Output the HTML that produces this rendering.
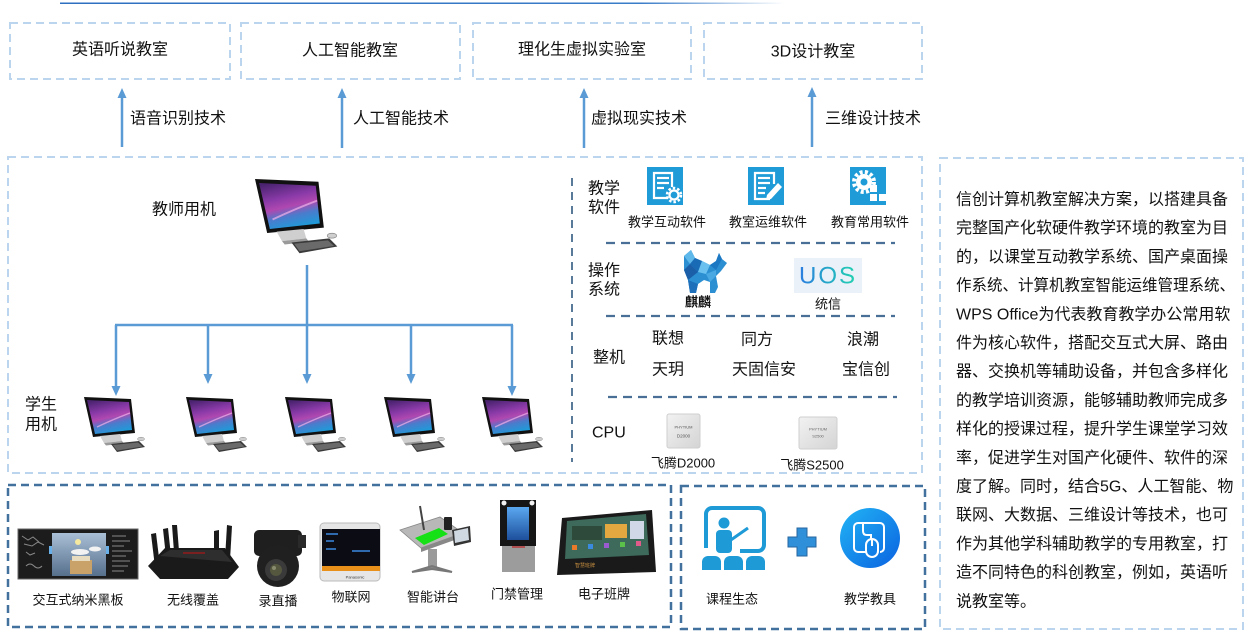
<!DOCTYPE html>
<html><head><meta charset="utf-8"><style>
html,body{margin:0;padding:0;background:#fff;}
body{width:1248px;height:640px;overflow:hidden;}
svg{display:block;}
text{font-family:"Liberation Sans","Noto Sans CJK SC",sans-serif;fill:#111;dominant-baseline:central;}
</style></head><body>
<svg width="1248" height="640" viewBox="0 0 1248 640" xmlns="http://www.w3.org/2000/svg">
<defs>
<linearGradient id="topline" x1="0" x2="1" y1="0" y2="0">
<stop offset="0" stop-color="#2e6fc0"/><stop offset="0.8" stop-color="#3a7cc8"/><stop offset="1" stop-color="#fff"/>
</linearGradient>
<linearGradient id="scr" x1="0.2" y1="0" x2="0.5" y2="1">
<stop offset="0" stop-color="#4a2370"/><stop offset="0.35" stop-color="#8a3aa8"/><stop offset="0.55" stop-color="#b048b0"/><stop offset="0.75" stop-color="#4a7ccc"/><stop offset="1" stop-color="#1f9ad8"/>
</linearGradient>
<linearGradient id="chip" x1="0" y1="0" x2="1" y2="1">
<stop offset="0" stop-color="#f2f2f2"/><stop offset="1" stop-color="#d4d4d4"/>
</linearGradient>
<linearGradient id="uos" x1="0" x2="1" y1="0" y2="0">
<stop offset="0" stop-color="#2a7de0"/><stop offset="1" stop-color="#22d3b0"/>
</linearGradient>
<linearGradient id="tool" x1="0" y1="0" x2="1" y2="1">
<stop offset="0" stop-color="#22b4f5"/><stop offset="1" stop-color="#0a62e0"/>
</linearGradient>
<linearGradient id="board" x1="0" y1="0" x2="0" y2="1">
<stop offset="0" stop-color="#a9bfd6"/><stop offset="1" stop-color="#566f8c"/>
</linearGradient>
<linearGradient id="door" x1="0" y1="0" x2="0" y2="1">
<stop offset="0" stop-color="#5aa8f0"/><stop offset="1" stop-color="#1d4f9c"/>
</linearGradient>
<g id="pc">
<polygon points="0,0 47,2 51,36 9,40" fill="#111"/>
<polygon points="3,3 45,5 48,33 11,37" fill="url(#scr)"/>
<path d="M13,30 Q30,22 46,16" stroke="#f4b0e8" stroke-width="1.4" fill="none" opacity=".7"/>
<polygon points="16,39 36,37 38,44 20,46" fill="#cfcfcf"/>
<polygon points="20,46 38,44 40,46.5 22,48.5" fill="#9a9a9a"/>
<polygon points="27,47 55,44 61,50 33,55" fill="#3a3a3a"/>
<polygon points="29,48 54,45.5 58.5,49.5 33,53.5" fill="#6a6a6a"/>
<ellipse cx="57" cy="42" rx="3.5" ry="1.8" fill="#cfcfcf" stroke="#888" stroke-width=".5"/>
</g>
</defs>

<rect x="60" y="2.5" width="725" height="1.5" fill="url(#topline)"/>

<g fill="none" stroke="#bcd5ee" stroke-width="2" stroke-dasharray="8 5">
<rect x="10" y="23" width="220" height="56"/>
<rect x="241" y="23" width="219" height="56"/>
<rect x="473" y="23" width="218" height="56"/>
<rect x="704" y="23" width="218" height="56"/>
<rect x="8" y="157" width="914" height="316"/>
<rect x="940" y="158" width="303" height="471"/>
</g>
<g font-size="16" text-anchor="middle">
<text x="120" y="50">英语听说教室</text>
<text x="350" y="51">人工智能教室</text>
<text x="582" y="50">理化生虚拟实验室</text>
<text x="813" y="52">3D设计教室</text>
</g>

<g stroke="#5b9bd5" stroke-width="2.5">
<line x1="122" y1="147" x2="122" y2="96"/>
<line x1="342" y1="148" x2="342" y2="96"/>
<line x1="584" y1="148" x2="584" y2="96"/>
<line x1="812" y1="147" x2="812" y2="96"/>
</g>
<g fill="#5b9bd5">
<polygon points="122,88 117.5,98 126.5,98"/>
<polygon points="342,88 337.5,98 346.5,98"/>
<polygon points="584,88 579.5,98 588.5,98"/>
<polygon points="812,87 807.5,97 816.5,97"/>
</g>
<g font-size="16">
<text x="130" y="119">语音识别技术</text>
<text x="353" y="119">人工智能技术</text>
<text x="591" y="119">虚拟现实技术</text>
<text x="825" y="119">三维设计技术</text>
</g>

<text x="152" y="210" font-size="16">教师用机</text>
<use href="#pc" transform="translate(255,179) scale(1.35)"/>
<text x="25" y="405" font-size="16">学生</text>
<text x="25" y="425" font-size="16">用机</text>
<use href="#pc" transform="translate(84,397)"/>
<use href="#pc" transform="translate(186,397)"/>
<use href="#pc" transform="translate(285,397)"/>
<use href="#pc" transform="translate(384,397)"/>
<use href="#pc" transform="translate(482,397)"/>

<g stroke="#5b9bd5" stroke-width="2.5" fill="none">
<line x1="307" y1="265" x2="307" y2="326"/>
<line x1="115" y1="325" x2="513" y2="325"/>
<line x1="116" y1="325" x2="116" y2="388"/>
<line x1="208" y1="325" x2="208" y2="376"/>
<line x1="307" y1="325" x2="307" y2="376"/>
<line x1="411" y1="325" x2="411" y2="376"/>
<line x1="512" y1="325" x2="512" y2="388"/>
</g>
<g fill="#5b9bd5">
<polygon points="116,396 111.5,386 120.5,386"/>
<polygon points="208,384 203.5,374 212.5,374"/>
<polygon points="307,384 302.5,374 311.5,374"/>
<polygon points="411,384 406.5,374 415.5,374"/>
<polygon points="512,396 507.5,386 516.5,386"/>
</g>

<line x1="572" y1="178" x2="572" y2="462" stroke="#5a7a9a" stroke-width="2" stroke-dasharray="8 6"/>
<g stroke="#4a6f96" stroke-width="2.2" stroke-dasharray="9 6">
<line x1="606" y1="243" x2="895" y2="243"/>
<line x1="606" y1="316" x2="895" y2="316"/>
<line x1="608" y1="397" x2="897" y2="397"/>
</g>
<g font-size="16">
<text x="588" y="189">教学</text>
<text x="588" y="208">软件</text>
<text x="588" y="271">操作</text>
<text x="588" y="290">系统</text>
<text x="593" y="358">整机</text>
<text x="592" y="433">CPU</text>
</g>

<rect x="647" y="167" width="36" height="38" fill="#1f9bd7"/>
<g fill="none" stroke="#fff" stroke-width="2.2">
<path d="M668,198 H654 V173 H672 V187"/>
<line x1="657" y1="178" x2="669" y2="178"/>
<line x1="657" y1="183" x2="669" y2="183"/>
<line x1="657" y1="188" x2="664" y2="188"/>
<circle cx="674" cy="195" r="4.5"/>
</g>
<circle cx="674" cy="195" r="7" fill="none" stroke="#fff" stroke-width="2.5" stroke-dasharray="2.5 2"/>
<rect x="748" y="167" width="36" height="38" fill="#1f9bd7"/>
<g fill="none" stroke="#fff" stroke-width="2.2">
<path d="M770,199 H755 V173 H774 V184"/>
<line x1="758" y1="178" x2="770" y2="178"/>
<line x1="758" y1="183" x2="770" y2="183"/>
<line x1="758" y1="188" x2="766" y2="188"/>
<line x1="758" y1="193" x2="765" y2="193"/>
</g>
<polygon points="778,183 782,187 771,199 766,200 767,195" fill="#fff"/>
<rect x="850" y="167" width="36" height="38" fill="#1f9bd7"/>
<circle cx="864" cy="182" r="10" fill="none" stroke="#fff" stroke-width="4" stroke-dasharray="3 2.3"/>
<circle cx="864" cy="182" r="8" fill="#fff"/>
<circle cx="864" cy="182" r="3.5" fill="#1f9bd7"/>
<g fill="#fff">
<rect x="870" y="185" width="7" height="7"/>
<rect x="870" y="194" width="7" height="7"/>
<rect x="879" y="194" width="7" height="7"/>
</g>
<g font-size="13" text-anchor="middle">
<text x="667" y="222">教学互动软件</text>
<text x="768" y="222">教室运维软件</text>
<text x="870" y="222">教育常用软件</text>
</g>

<g transform="translate(682,250)">
<polygon points="2,6 9,0 13,8 20,11 28,15 34,11 37,3 40,9 45,13 39,21 34,26 36,37 33,43 28,43 28,32 22,30 16,34 14,43 8,43 6,30 2,20" fill="#2b8fd2"/>
<polygon points="2,6 9,0 13,8 8,14" fill="#5fb8ea"/>
<polygon points="13,8 20,11 16,22 8,14" fill="#1a6bb5"/>
<polygon points="20,11 28,15 24,24 16,22" fill="#6ac0ee"/>
<polygon points="28,15 34,11 37,3 40,9 34,20" fill="#1d78c4"/>
<polygon points="2,20 8,14 16,22 6,30" fill="#1a5fa8"/>
<polygon points="24,24 34,20 34,26 28,32" fill="#4aa8e2"/>
<polygon points="8,43 6,30 16,34 14,43" fill="#1e70bb"/>
</g>
<text x="698" y="302" font-size="13" text-anchor="middle" font-weight="bold">麒麟</text>
<rect x="794" y="258" width="68" height="35" fill="#eaf1f8"/>
<text x="828" y="276" font-size="24" text-anchor="middle" style="fill:url(#uos);letter-spacing:2px">UOS</text>
<text x="828" y="304" font-size="13" text-anchor="middle">统信</text>

<g font-size="16" text-anchor="middle">
<text x="668" y="339">联想</text>
<text x="757" y="340">同方</text>
<text x="863" y="340">浪潮</text>
<text x="668" y="370">天玥</text>
<text x="764" y="370">天固信安</text>
<text x="866" y="370">宝信创</text>
</g>

<rect x="667" y="414" width="33" height="34" rx="2" fill="url(#chip)" stroke="#cfcfcf"/>
<text x="683.5" y="427" font-size="4" text-anchor="middle" style="fill:#555">PHYTIUM</text>
<text x="683.5" y="436" font-size="4.5" text-anchor="middle" style="fill:#555">D2000</text>
<rect x="799" y="417" width="38" height="32" rx="2" fill="url(#chip)" stroke="#cfcfcf"/>
<text x="818" y="429" font-size="4" text-anchor="middle" style="fill:#666">PHYTIUM</text>
<text x="818" y="436" font-size="4" text-anchor="middle" style="fill:#666">S2500</text>
<g font-size="13" text-anchor="middle">
<text x="683" y="463">飞腾D2000</text>
<text x="812" y="465">飞腾S2500</text>
</g>

<g font-size="16">
<text x="956" y="200">信创计算机教室解决方案，以搭建具备</text>
<text x="956" y="228.7">完整国产化软硬件教学环境的教室为目</text>
<text x="956" y="257.4">的，以课堂互动教学系统、国产桌面操</text>
<text x="956" y="286.1" textLength="279" lengthAdjust="spacingAndGlyphs">作系统、计算机教室智能运维管理系统、</text>
<text x="956" y="314.8">WPS Office为代表教育教学办公常用软</text>
<text x="956" y="343.5">件为核心软件，搭配交互式大屏、路由</text>
<text x="956" y="372.2">器、交换机等辅助设备，并包含多样化</text>
<text x="956" y="400.9">的教学培训资源，能够辅助教师完成多</text>
<text x="956" y="429.6">样化的授课过程，提升学生课堂学习效</text>
<text x="956" y="458.3">率，促进学生对国产化硬件、软件的深</text>
<text x="956" y="487">度了解。同时，结合5G、人工智能、物</text>
<text x="956" y="515.7">联网、大数据、三维设计等技术，也可</text>
<text x="956" y="544.4">作为其他学科辅助教学的专用教室，打</text>
<text x="956" y="573.1">造不同特色的科创教室，例如，英语听</text>
<text x="956" y="601.8">说教室等。</text>
</g>

<g fill="none" stroke="#41719c" stroke-width="2.5" stroke-dasharray="8 5">
<rect x="8" y="485" width="663" height="142"/>
<rect x="681" y="486" width="244" height="143"/>
</g>

<rect x="18" y="529" width="120" height="50" fill="#1c1c1c" stroke="#666" stroke-width="1"/>
<rect x="52" y="533" width="54" height="43" fill="url(#board)"/>
<rect x="49" y="546" width="3" height="8" fill="#6ab0e8"/>
<rect x="106" y="546" width="3" height="8" fill="#6ab0e8"/>
<g stroke="#888" stroke-width="1" fill="none">
<path d="M22,536 l6,4 l5,-3 l6,5 M24,544 l8,2 l6,-4 l6,3 M26,552 l4,3 l5,-2"/>
<path d="M26,566 q4,-4 8,0 q4,4 8,0"/>
<path d="M112,536 h14 M112,541 h18 M112,546 h12 M112,551 h20 M112,556 h14 M112,561 h18 M112,566 h16 M112,571 h12"/>
</g>
<rect x="70" y="560" width="22" height="14" fill="#c9a26a"/>
<rect x="72" y="556" width="18" height="5" fill="#e8dcc0"/>
<ellipse cx="80" cy="552" rx="9" ry="3" fill="#f2f2f2"/>
<ellipse cx="95" cy="549" rx="6" ry="2.5" fill="#f2f2f2"/>
<circle cx="78" cy="542" r="3" fill="#f5e9a0"/>

<g fill="#1a1a1a">
<polygon points="151,534 156,533 160,566 155,567"/>
<polygon points="163,529 168,528 171,556 166,557"/>
<polygon points="172,525 177,525 179,551 174,552"/>
<polygon points="214,531 219,530 219,556 214,556"/>
<polygon points="227,525 232,526 230,560 225,559"/>
<polygon points="148,566 165,548 225,548 239,567 228,579 160,579"/>
</g>
<polygon points="160,556 170,550 222,550 232,562" fill="#2e2e2e"/>
<rect x="183" y="552" width="22" height="2" fill="#7a2020"/>

<rect x="254" y="530" width="48" height="26" rx="5" fill="#1f1f1f"/>
<rect x="298" y="535" width="8" height="13" fill="#2a2a2a"/>
<circle cx="278" cy="566" r="21" fill="#202020"/>
<circle cx="276" cy="570" r="11" fill="#3a3a3a"/>
<circle cx="276" cy="570" r="6" fill="#55573f"/>
<circle cx="274" cy="568" r="2" fill="#8a8c70"/>

<rect x="320" y="523" width="60" height="58" rx="4" fill="#e6e6e6" stroke="#bbb"/>
<rect x="322" y="529" width="58" height="37" fill="#0c0c14"/>
<g stroke="#3a8ae0" stroke-width="1.5">
<line x1="326" y1="534" x2="338" y2="534"/><line x1="326" y1="541" x2="334" y2="541"/><line x1="326" y1="549" x2="336" y2="549"/>
<line x1="352" y1="551" x2="370" y2="551"/>
</g>
<rect x="322" y="566" width="58" height="5" fill="#e8901a"/>
<text x="355" y="577" font-size="4" text-anchor="middle" style="fill:#333">Panasonic</text>

<polygon points="400,530 440,517 463,533 421,548" fill="#b8b8b8" stroke="#888" stroke-width=".8"/>
<polygon points="415,538 439,528 448,534 424,545" fill="#16e016"/>
<polygon points="421,548 463,533 463,537 421,552" fill="#888"/>
<line x1="424" y1="530" x2="420" y2="506" stroke="#444" stroke-width="2"/>
<rect x="444" y="517" width="8" height="13" rx="1" fill="#222"/>
<polygon points="452,530 470,526 471,542 454,546" fill="#333"/>
<polygon points="454,531 468,528 469,540 455,543" fill="#cfd8e0"/>
<rect x="428" y="549" width="9" height="20" fill="#9a9a9a"/>
<polygon points="412,572 432,566 452,572 432,569" fill="#888" stroke="#777" stroke-width="2"/>

<rect x="500" y="500" width="36" height="46" fill="#161616"/>
<rect x="507" y="507" width="22" height="33" fill="url(#door)"/>
<circle cx="504" cy="503" r="2.5" fill="#f2f2f2"/>
<circle cx="532" cy="503" r="2.5" fill="#f2f2f2"/>
<rect x="502" y="546" width="33" height="26" fill="#9c9c9c"/>
<rect x="512" y="546" width="13" height="2" fill="#b05050"/>

<polygon points="562,518 652,510 656,572 557,575" fill="#1a1a1a"/>
<polygon points="567,521 646,514 649,555 565,559" fill="#3d6a5a"/>
<rect x="572" y="526" width="30" height="14" fill="#2d4a3a"/>
<rect x="605" y="524" width="22" height="14" fill="#e4a840"/>
<rect x="630" y="521" width="14" height="18" fill="#d0d8e8"/>
<g fill="#e87a2a"><rect x="572" y="545" width="5" height="5"/><rect x="588" y="544" width="5" height="5" fill="#3a8ae0"/><rect x="604" y="543" width="5" height="5" fill="#9a5ad0"/><rect x="620" y="542" width="5" height="5" fill="#5ac04a"/><rect x="636" y="541" width="5" height="5" fill="#e05a8a"/></g>
<text x="575" y="566" font-size="5" style="fill:#c89040">智慧班牌</text>

<g font-size="13" text-anchor="middle">
<text x="78" y="600">交互式纳米黑板</text>
<text x="193" y="600">无线覆盖</text>
<text x="278" y="601">录直播</text>
<text x="351" y="597">物联网</text>
<text x="433" y="597">智能讲台</text>
<text x="517" y="594">门禁管理</text>
<text x="604" y="594">电子班牌</text>
</g>

<path d="M712,508 H758 a6,6 0 0 1 6,6 V545 a6,6 0 0 1 -6,6 H740" fill="none" stroke="#1e9ad6" stroke-width="4"/>
<path d="M712,508 a6,6 0 0 0 -6,6 V548" fill="none" stroke="#1e9ad6" stroke-width="4"/>
<circle cx="724" cy="523" r="5.5" fill="#1e9ad6"/>
<rect x="716" y="530" width="16" height="23" rx="4" fill="#1e9ad6"/>
<line x1="728" y1="542" x2="748" y2="528" stroke="#1e9ad6" stroke-width="3"/>
<path d="M702,570 V562 a6,6 0 0 1 6,-6 H715 a6,6 0 0 1 6,6 V570 Z" fill="#1e9ad6"/>
<path d="M724,570 V562 a6,6 0 0 1 6,-6 H737 a6,6 0 0 1 6,6 V570 Z" fill="#1e9ad6"/>
<path d="M746,570 V562 a6,6 0 0 1 6,-6 H759 a6,6 0 0 1 6,6 V570 Z" fill="#1e9ad6"/>

<path d="M797,528 h10 v9 h9 v10 h-9 v9 h-10 v-9 h-9 v-10 h9 z" fill="#2f8fd8" stroke="#2566a0" stroke-width="1"/>

<circle cx="870" cy="538" r="30" fill="url(#tool)"/>
<g fill="none" stroke="#fff" stroke-width="2">
<path d="M861,523 H880 a4,4 0 0 1 4,4 V548 a4,4 0 0 1 -4,4 H880"/>
<path d="M861,523 H858 a4,4 0 0 0 -4,4 V548 a4,4 0 0 0 4,4 H866"/>
<path d="M863,523 v8 q0,4 4,4 h4 v4"/>
<rect x="866" y="539" width="12" height="18" rx="6"/>
<line x1="872" y1="540" x2="872" y2="546"/>
</g>

<g font-size="13" text-anchor="middle">
<text x="732" y="599">课程生态</text>
<text x="870" y="599">教学教具</text>
</g>
</svg>
</body></html>
